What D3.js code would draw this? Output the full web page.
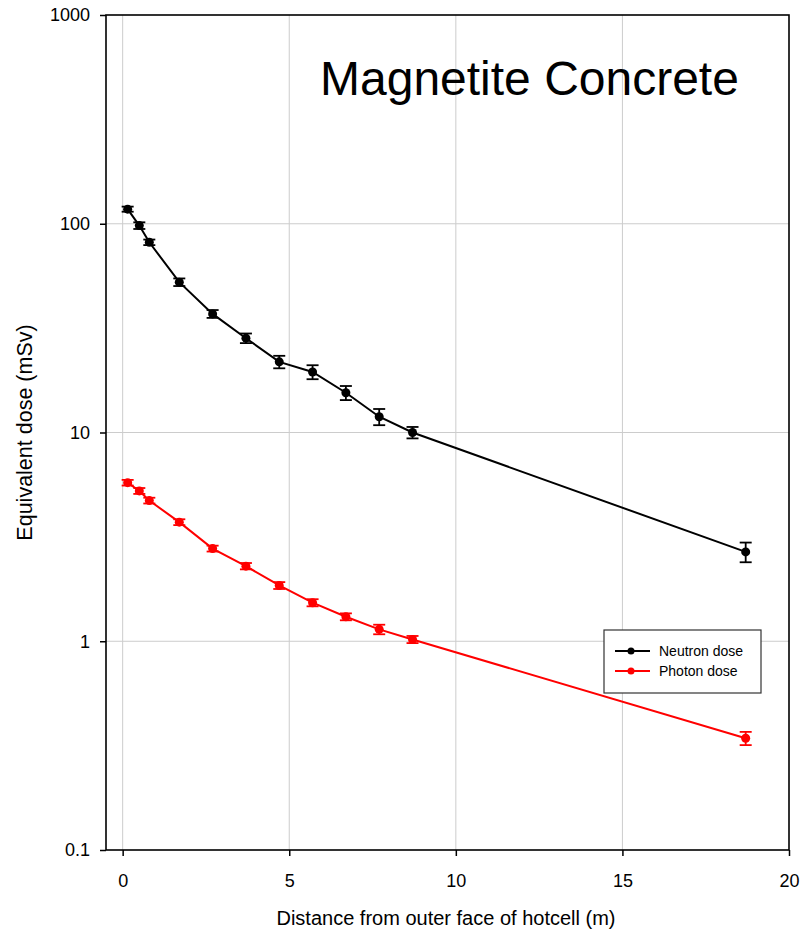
<!DOCTYPE html>
<html lang="en">
<head>
    <meta charset="utf-8">
    <title>Magnetite Concrete</title>
    <script src="https://d3js.org/d3.v7.min.js"></script>
    <style>
        body { margin: 0; background: #fff; }
        text { font-family: "Liberation Sans", Arial, sans-serif; fill: #000; }
    </style>
</head>
<body>
<svg width="807" height="931"></svg>
<script>
    // data
    var distance = [0.15, 0.5, 0.8, 1.7, 2.7, 3.7, 4.7, 5.7, 6.7, 7.7, 8.7, 18.7];
    var neutronDose = [117.5, 98, 81.5, 52.5, 37, 28.3, 21.8, 19.5, 15.5, 11.9, 10.0, 2.68];
    var neutronErr = [3.3, 3.6, 2.5, 2.2, 1.6, 1.5, 1.5, 1.5, 1.2, 1.06, 0.63, 0.29];
    var photonDose = [5.75, 5.25, 4.72, 3.72, 2.78, 2.29, 1.85, 1.53, 1.31, 1.14, 1.02, 0.343];
    var photonErr = [0.18, 0.17, 0.15, 0.12, 0.09, 0.08, 0.07, 0.06, 0.05, 0.06, 0.04, 0.025];
    var xTicks = [0, 5, 10, 15, 20];
    var yTicks = [0.1, 1, 10, 100, 1000];
    var seriesNames = ["Neutron dose", "Photon dose"];
    var seriesColors = ["#000000", "#ff0000"];

    var marge = {top: 15, bottom: 81, left: 106, right: 18};
    var svg = d3.select("svg");
    var width = +svg.attr("width") - marge.left - marge.right;
    var height = +svg.attr("height") - marge.top - marge.bottom;
    var g = svg.append("g")
        .attr("transform", "translate(" + marge.left + "," + marge.top + ")");

    var xScale = d3.scaleLinear().domain([-0.5, 20]).range([0, width]);
    var yScale = d3.scaleLog().domain([0.1, 1000]).range([height, 0]);

    // grid
    g.append("g").selectAll("line")
        .data(xTicks.filter(function(d){ return d < 20; }))
        .enter().append("line")
        .attr("x1", function(d){ return xScale(d); })
        .attr("x2", function(d){ return xScale(d); })
        .attr("y1", 0).attr("y2", height)
        .attr("stroke", "#cccccc").attr("stroke-width", 1);
    g.append("g").selectAll("line")
        .data(yTicks.filter(function(d){ return d > 0.1 && d < 1000; }))
        .enter().append("line")
        .attr("x1", 0).attr("x2", width)
        .attr("y1", function(d){ return yScale(d); })
        .attr("y2", function(d){ return yScale(d); })
        .attr("stroke", "#cccccc").attr("stroke-width", 1);

    // axes
    var xAxis = d3.axisBottom(xScale).tickValues(xTicks).tickSize(6).tickPadding(18)
        .tickFormat(function(d){ return d; });
    var yAxis = d3.axisLeft(yScale).tickValues(yTicks).tickSize(6).tickPadding(10)
        .tickFormat(function(d){ return d; });

    var gx = g.append("g")
        .attr("transform", "translate(0," + height + ")")
        .call(xAxis);
    var gy = g.append("g").call(yAxis);
    [gx, gy].forEach(function(a){
        a.select(".domain").remove();
        a.selectAll("line").attr("stroke", "#000").attr("stroke-width", 1.5);
        a.selectAll("text").attr("font-size", 18).attr("font-family", "Liberation Sans, Arial, sans-serif").attr("fill", "#000");
    });

    // frame
    g.append("rect")
        .attr("x", 0).attr("y", 0)
        .attr("width", width).attr("height", height)
        .attr("fill", "none").attr("stroke", "#000").attr("stroke-width", 1.6);

    var series = [
        {name: seriesNames[0], color: seriesColors[0], values: neutronDose, errs: neutronErr},
        {name: seriesNames[1], color: seriesColors[1], values: photonDose, errs: photonErr}
    ];

    var line = d3.line()
        .x(function(d){ return xScale(d.x); })
        .y(function(d){ return yScale(d.y); });

    series.forEach(function(s){
        var pts = distance.map(function(x, i){ return {x: x, y: s.values[i], e: s.errs[i]}; });
        var sg = g.append("g");
        sg.append("path")
            .datum(pts)
            .attr("d", line)
            .attr("fill", "none")
            .attr("stroke", s.color)
            .attr("stroke-width", 2);
        var eb = sg.selectAll(".err").data(pts).enter().append("g").attr("class", "err")
            .attr("stroke", s.color).attr("stroke-width", 1.8);
        eb.append("line")
            .attr("x1", function(d){ return xScale(d.x); })
            .attr("x2", function(d){ return xScale(d.x); })
            .attr("y1", function(d){ return yScale(d.y + d.e); })
            .attr("y2", function(d){ return yScale(d.y - d.e); });
        eb.append("line")
            .attr("x1", function(d){ return xScale(d.x) - 6; })
            .attr("x2", function(d){ return xScale(d.x) + 6; })
            .attr("y1", function(d){ return yScale(d.y + d.e); })
            .attr("y2", function(d){ return yScale(d.y + d.e); });
        eb.append("line")
            .attr("x1", function(d){ return xScale(d.x) - 6; })
            .attr("x2", function(d){ return xScale(d.x) + 6; })
            .attr("y1", function(d){ return yScale(d.y - d.e); })
            .attr("y2", function(d){ return yScale(d.y - d.e); });
        sg.selectAll("circle").data(pts).enter().append("circle")
            .attr("cx", function(d){ return xScale(d.x); })
            .attr("cy", function(d){ return yScale(d.y); })
            .attr("r", 4.5)
            .attr("fill", s.color);
    });

    // title
    svg.append("text")
        .attr("x", 320).attr("y", 95)
        .attr("font-size", 48)
        .text("Magnetite Concrete");

    // axis titles
    svg.append("text")
        .attr("x", 446).attr("y", 925)
        .attr("text-anchor", "middle")
        .attr("font-size", 20)
        .text("Distance from outer face of hotcell (m)");
    svg.append("text")
        .attr("transform", "translate(32," + (marge.top + height / 2) + ") rotate(-90)")
        .attr("text-anchor", "middle")
        .attr("font-size", 21.5)
        .text("Equivalent dose (mSv)");

    // legend
    var lg = svg.append("g").attr("transform", "translate(604,630)");
    lg.append("rect")
        .attr("width", 157).attr("height", 63)
        .attr("fill", "#fff").attr("stroke", "#333").attr("stroke-width", 1.2);
    var items = lg.selectAll(".item").data(series).enter().append("g")
        .attr("transform", function(d, i){ return "translate(0," + (21 + i * 20) + ")"; });
    items.append("line")
        .attr("x1", 11).attr("x2", 46)
        .attr("stroke", function(d){ return d.color; }).attr("stroke-width", 2);
    items.append("circle")
        .attr("cx", 27).attr("r", 3.5)
        .attr("fill", function(d){ return d.color; });
    items.append("text")
        .attr("x", 55).attr("y", 5)
        .attr("font-size", 14)
        .text(function(d){ return d.name; });
</script>
</body>
</html>
